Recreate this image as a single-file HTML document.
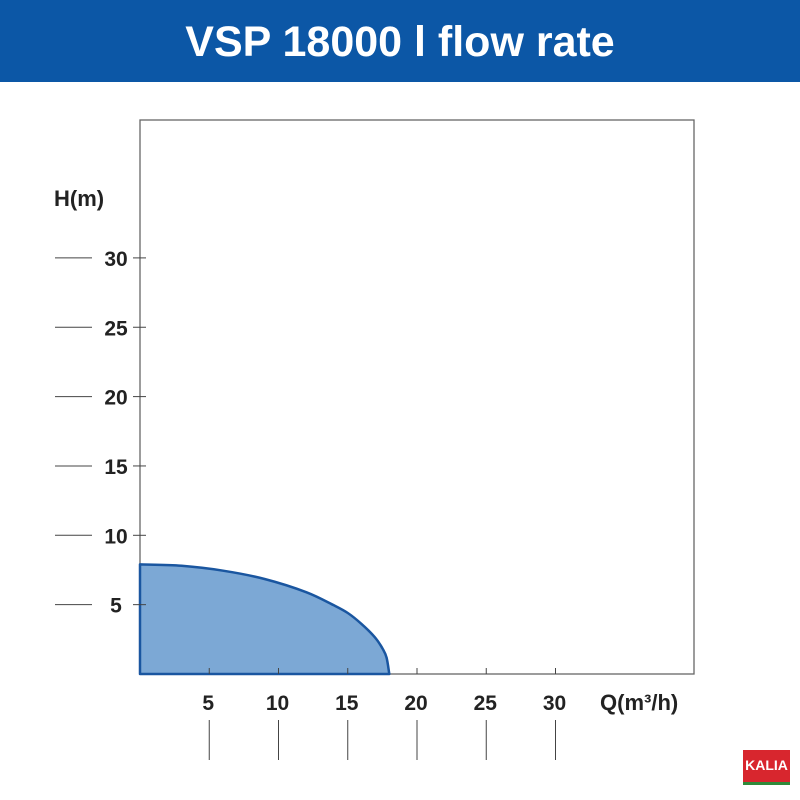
<!DOCTYPE html>
<html><head><meta charset="utf-8"><style>
body{margin:0;background:#fff;width:800px;height:800px;overflow:hidden;font-family:"Liberation Sans",sans-serif}
#hdr{position:absolute;left:0;top:0;width:800px;height:82px;background:#0c57a6;color:#fff;font-weight:bold;font-size:43px;text-align:center;line-height:84px}
</style></head><body>
<div id="hdr">VSP 18000 l flow rate</div>
<svg id="c" width="800" height="800" style="position:absolute;left:0;top:0"></svg>
<div style="position:absolute;left:743px;top:750px;width:47px;height:32px;background:#d8262e;color:#fff;font-weight:bold;font-size:14px;text-align:center;line-height:30px;border-bottom:3px solid #2f8a3a">KALIA</div>
<script>
const xTicks=[5,10,15,20,25,30];
const yTicks=[5,10,15,20,25,30];
const curveQ=[0,3,6,9,12,14,15,16,17,17.5,17.8,18];
const curveH=[7.9,7.8,7.45,6.85,5.9,4.95,4.4,3.6,2.6,1.85,1.2,0];
const X=q=>140+q*13.85, Y=h=>674-h*13.87;
const s=document.getElementById('c');const NS='http://www.w3.org/2000/svg';
function mk(t,a,txt){const e=document.createElementNS(NS,t);for(const k in a)e.setAttribute(k,a[k]);if(txt!=null)e.textContent=txt;s.appendChild(e);return e;}
let e=mk('rect',{x:140,y:120,width:554,height:554,fill:'none',stroke:'#666','stroke-width':1.3});


const P=curveQ.map((q,i)=>[X(q),Y(curveH[i])]);
let d='M'+X(0)+','+Y(0)+' L'+P[0][0]+','+P[0][1];
for(let i=0;i<P.length-1;i++){
  const p0=P[Math.max(i-1,0)],p1=P[i],p2=P[i+1],p3=P[Math.min(i+2,P.length-1)];
  const c1=[p1[0]+(p2[0]-p0[0])/6,p1[1]+(p2[1]-p0[1])/6];
  const c2=[p2[0]-(p3[0]-p1[0])/6,p2[1]-(p3[1]-p1[1])/6];
  d+=' C'+c1[0].toFixed(1)+','+c1[1].toFixed(1)+' '+c2[0].toFixed(1)+','+c2[1].toFixed(1)+' '+p2[0].toFixed(1)+','+p2[1].toFixed(1);
}
d+=' Z';
e=mk('path',{d:d,fill:'#7ca8d5',stroke:'#1a56a0','stroke-width':2.5,'stroke-linejoin':'round'});


xTicks.forEach(v=>{
  e=mk('line',{x1:X(v),x2:X(v),y1:668,y2:674,stroke:'#444'});
  
  
  e=mk('text',{x:X(v)-1,y:710,'text-anchor':'middle','font-size':21,'font-weight':'bold',fill:'#222'},v);
  
  
  e=mk('line',{x1:X(v),x2:X(v),y1:720,y2:760,stroke:'#444'});
  
  
});
yTicks.forEach(v=>{
  e=mk('line',{x1:133,x2:146,y1:Y(v),y2:Y(v),stroke:'#444'});
  
  
  e=mk('text',{x:116,y:Y(v)+8,'text-anchor':'middle','font-size':21,'font-weight':'bold',fill:'#222'},v);
  
  
  e=mk('line',{x1:55,x2:92,y1:Y(v),y2:Y(v),stroke:'#444'});
  
  
});
e=mk('text',{x:54,y:206,'font-size':22,'font-weight':'bold',fill:'#222'},'H(m)');


e=mk('text',{x:600,y:710,'font-size':22,'font-weight':'bold',fill:'#222'},'Q(m³/h)');


</script>
</body></html>
